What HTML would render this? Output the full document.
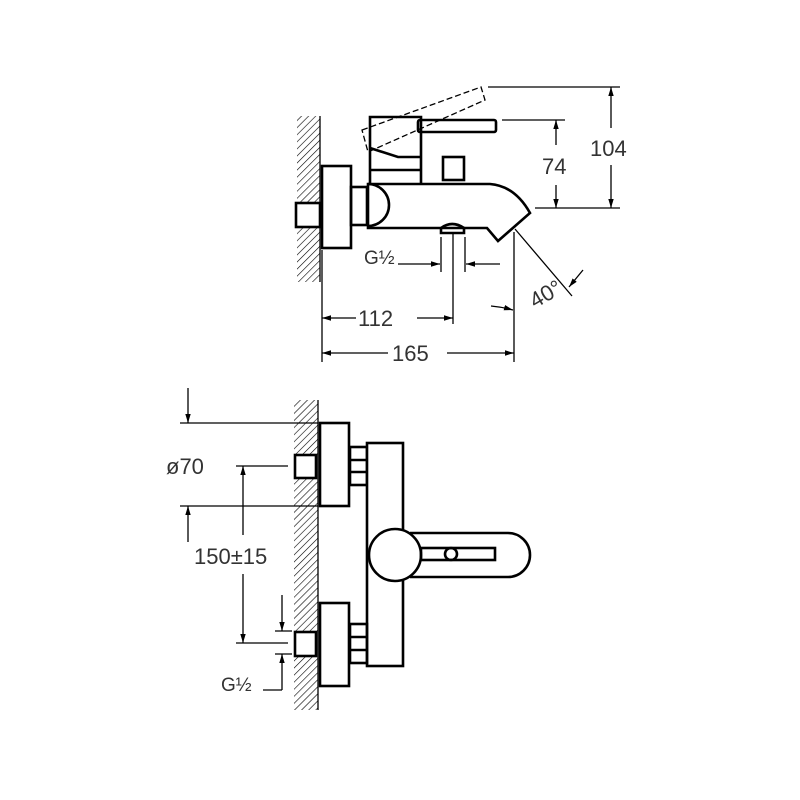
<!DOCTYPE html>
<html><head><meta charset="utf-8"><style>html,body{margin:0;padding:0;background:#fff}svg{display:block}</style></head><body>
<svg width="800" height="800" viewBox="0 0 800 800" xmlns="http://www.w3.org/2000/svg">
<defs>
<pattern id="h" width="5" height="5" patternUnits="userSpaceOnUse" patternTransform="rotate(45)">
<line x1="0" y1="0" x2="0" y2="5" stroke="#000" stroke-width="1.2"/></pattern>
<marker id="a" viewBox="0 0 10 10" refX="10" refY="5" markerWidth="9" markerHeight="9" markerUnits="userSpaceOnUse" orient="auto"><path d="M0,2 L10,5 L0,8 z" fill="#000"/></marker>
</defs>
<g fill="none" stroke="#000" stroke-width="1.3">
<rect x="297" y="116" width="23" height="86" fill="url(#h)" stroke="none"/>
<rect x="297" y="228" width="23" height="54" fill="url(#h)" stroke="none"/>
<line x1="320" y1="116" x2="320" y2="282"/>
<g stroke-width="2.6">
<rect x="296" y="203" width="24" height="24" fill="#fff"/>
<rect x="322" y="166" width="29" height="82" fill="#fff"/>
<rect x="351" y="187" width="16" height="38"/>
<path d="M368,184 L490,184 Q515,186 530,213 L498,241 L487,228 L368,228 Z"/>
<path d="M368,184 A21,21 0 0 1 368,226"/>
<path d="M441,233 L441,228 Q452,220 464,228 L464,233 Z"/>
<rect x="443" y="157" width="21" height="23"/>
<path d="M370,184 L370,117 L421,117 L421,184"/>
<line x1="370" y1="170" x2="421" y2="170"/>
<path d="M370,148 L398,157 L421,157"/>
<rect x="418" y="120" width="78" height="12" rx="2"/>
</g>
<path d="M362,130 L481,87 L485,100 L368,152 Z" stroke-dasharray="6,3"/>
<line x1="488" y1="87" x2="620" y2="87"/>
<line x1="535" y1="208" x2="620" y2="208"/>
<line x1="611" y1="128" x2="611" y2="87" marker-end="url(#a)"/>
<line x1="611" y1="165" x2="611" y2="208" marker-end="url(#a)"/>
<line x1="502" y1="120" x2="565" y2="120"/>
<line x1="556" y1="145" x2="556" y2="120" marker-end="url(#a)"/>
<line x1="556" y1="185" x2="556" y2="208" marker-end="url(#a)"/>
<line x1="441" y1="237" x2="441" y2="272"/>
<line x1="465" y1="237" x2="465" y2="272"/>
<line x1="453" y1="232" x2="453" y2="324"/>
<line x1="398" y1="264" x2="440" y2="264" marker-end="url(#a)"/>
<line x1="500" y1="264" x2="466" y2="264" marker-end="url(#a)"/>
<line x1="322" y1="250" x2="322" y2="362"/>
<line x1="514" y1="232" x2="514" y2="362"/>
<line x1="356" y1="318" x2="322" y2="318" marker-end="url(#a)"/>
<line x1="417" y1="318" x2="453" y2="318" marker-end="url(#a)"/>
<line x1="388" y1="353" x2="322" y2="353" marker-end="url(#a)"/>
<line x1="447" y1="353" x2="514" y2="353" marker-end="url(#a)"/>
<line x1="515" y1="229" x2="572" y2="296"/>
<line x1="583" y1="270" x2="569" y2="287" marker-end="url(#a)"/>
<path d="M491,306 Q502,307 513,310" marker-end="url(#a)"/>
<rect x="294" y="400" width="24" height="55" fill="url(#h)" stroke="none"/>
<rect x="294" y="478" width="24" height="154" fill="url(#h)" stroke="none"/>
<rect x="294" y="656" width="24" height="54" fill="url(#h)" stroke="none"/>
<line x1="318" y1="400" x2="318" y2="710"/>
<g stroke-width="2.6">
<rect x="320" y="423" width="29" height="83" fill="#fff"/>
<rect x="295" y="455" width="21" height="23" fill="#fff"/>
<rect x="350" y="447" width="17" height="38"/>
<line x1="350" y1="460" x2="367" y2="460"/>
<line x1="350" y1="472" x2="367" y2="472"/>
<rect x="367" y="443" width="36" height="223" fill="#fff"/>
<rect x="320" y="603" width="29" height="83" fill="#fff"/>
<rect x="295" y="632" width="21" height="24" fill="#fff"/>
<rect x="350" y="624" width="17" height="39"/>
<line x1="350" y1="637" x2="367" y2="637"/>
<line x1="350" y1="650" x2="367" y2="650"/>
<path d="M410,533 L508,533 A22,22 0 0 1 508,577 L410,577" fill="#fff"/>
<circle cx="395" cy="555" r="26" fill="#fff"/>
<rect x="421" y="548" width="74" height="12"/>
<circle cx="451" cy="554" r="6"/>
</g>
<line x1="180" y1="423" x2="318" y2="423"/>
<line x1="188" y1="388" x2="188" y2="423" marker-end="url(#a)"/>
<line x1="180" y1="506" x2="318" y2="506"/>
<line x1="188" y1="542" x2="188" y2="506" marker-end="url(#a)"/>
<line x1="236" y1="466" x2="288" y2="466"/>
<line x1="236" y1="643" x2="288" y2="643"/>
<line x1="243" y1="535" x2="243" y2="466" marker-end="url(#a)"/>
<line x1="243" y1="574" x2="243" y2="643" marker-end="url(#a)"/>
<line x1="275" y1="631" x2="292" y2="631"/>
<line x1="282" y1="595" x2="282" y2="631" marker-end="url(#a)"/>
<line x1="275" y1="654" x2="292" y2="654"/>
<line x1="282" y1="690" x2="282" y2="654" marker-end="url(#a)"/>
<line x1="263" y1="690" x2="282" y2="690"/>
</g>
<g font-family="Liberation Sans, sans-serif" fill="#333" font-size="22">
<text x="590" y="156">104</text>
<text x="542" y="174">74</text>
<text x="364" y="264" font-size="19">G½</text>
<text x="358" y="326">112</text>
<text x="392" y="361">165</text>
<text x="527" y="305" transform="rotate(-30 538 292)">40°</text>
<text x="166" y="474">ø70</text>
<text x="194" y="564">150±15</text>
<text x="221" y="691" font-size="19">G½</text>
</g>
</svg>
</body></html>
